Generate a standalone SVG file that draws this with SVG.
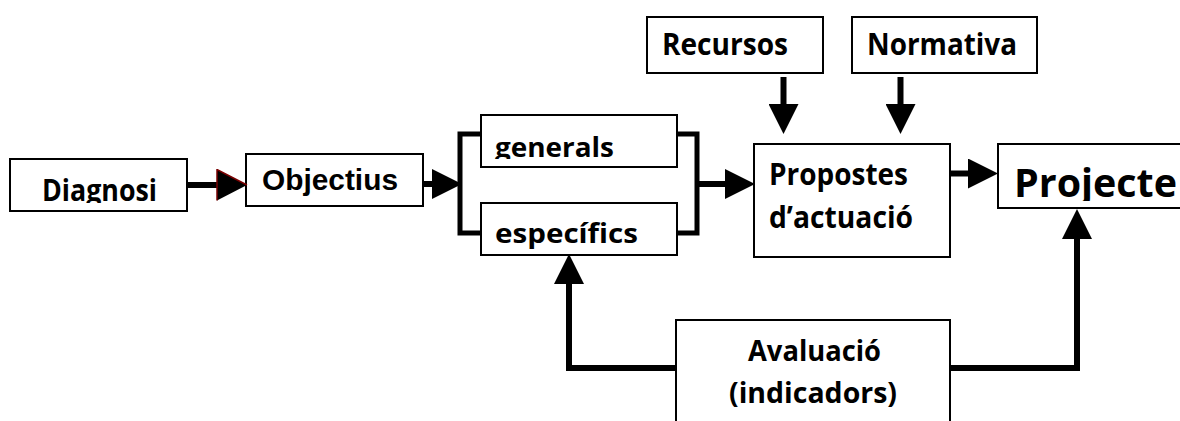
<svg xmlns="http://www.w3.org/2000/svg" width="1180" height="421" viewBox="0 0 1180 421">
<style>
.box{fill:#fff;stroke:#000;stroke-width:2}
.t{font-family:"Open Sans","DejaVu Sans",sans-serif;font-weight:700;fill:#000}
.ta{font-family:"Liberation Sans",Arial,sans-serif;font-weight:700;font-size:30px;fill:#000}
.c{fill:none;stroke:#000;stroke-width:6;stroke-linejoin:miter;stroke-linecap:butt}
.br{fill:none;stroke:#000;stroke-width:5;stroke-linejoin:miter}
</style>
<defs>
<marker id="ah" viewBox="0 0 30 30" markerWidth="30" markerHeight="30" refX="0" refY="15" orient="auto" markerUnits="userSpaceOnUse">
<path d="M0,0 L30,15 L0,30 Z" fill="#000"/>
</marker>
<marker id="ahr" viewBox="-1 -1 32 33" markerWidth="32" markerHeight="33" refX="0" refY="15.5" orient="auto" markerUnits="userSpaceOnUse">
<path d="M0,0 L30,15.5 L0,31 Z" fill="#000"/>
<path d="M0,31 L0,0 L30,15.5" fill="none" stroke="#7a0000" stroke-width="1.5"/>
</marker>
<clipPath id="cDiag"><rect x="0" y="150" width="200" height="53"/></clipPath>
<clipPath id="cGen"><rect x="480" y="110" width="200" height="49"/></clipPath>
<clipPath id="cProj"><rect x="990" y="140" width="190" height="61"/></clipPath>
</defs>

<g id="diagnosi">
<rect class="box" x="10" y="159" width="177" height="52"/>
<text class="t" x="42" y="201" font-size="30" textLength="115" lengthAdjust="spacingAndGlyphs" clip-path="url(#cDiag)">Diagnosi</text>
</g>

<g id="objectius">
<rect class="box" x="246" y="154" width="177" height="52"/>
<text class="ta" x="262" y="190" textLength="136" lengthAdjust="spacingAndGlyphs">Objectius</text>
</g>

<g id="generals">
<rect class="box" x="481" y="115" width="196" height="52"/>
<text class="t" x="495" y="157" font-size="26" textLength="119" lengthAdjust="spacingAndGlyphs" clip-path="url(#cGen)">generals</text>
</g>

<g id="especifics">
<rect class="box" x="481" y="203" width="196" height="52"/>
<text class="t" x="495" y="243" font-size="26" textLength="143" lengthAdjust="spacingAndGlyphs">específics</text>
</g>

<g id="recursos">
<rect class="box" x="647" y="17" width="176" height="56"/>
<text class="t" x="662" y="55" font-size="30" textLength="126" lengthAdjust="spacingAndGlyphs">Recursos</text>
</g>

<g id="normativa">
<rect class="box" x="852" y="17" width="185" height="56"/>
<text class="t" x="867" y="55" font-size="30" textLength="150" lengthAdjust="spacingAndGlyphs">Normativa</text>
</g>

<g id="propostes">
<rect class="box" x="754" y="144" width="196" height="113"/>
<text class="t" x="769" y="185" font-size="30" textLength="139" lengthAdjust="spacingAndGlyphs">Propostes</text>
<text class="t" x="769" y="228" font-size="30" textLength="144" lengthAdjust="spacingAndGlyphs">d’actuació</text>
</g>

<g id="projecte">
<rect class="box" x="998" y="144" width="190" height="64"/>
<text class="t" x="1014" y="197" font-size="40" textLength="163" lengthAdjust="spacingAndGlyphs" clip-path="url(#cProj)">Projecte</text>
</g>

<g id="avaluacio">
<rect class="box" x="676" y="320" width="274" height="110"/>
<text class="t" x="748" y="361" font-size="28" textLength="133" lengthAdjust="spacingAndGlyphs">Avaluació</text>
<text class="t" x="729" y="403" font-size="28" textLength="168" lengthAdjust="spacingAndGlyphs">(indicadors)</text>
</g>

<g id="connectors">
<line class="c" x1="187" y1="185" x2="217" y2="185" marker-end="url(#ahr)"/>
<line class="c" x1="423" y1="184" x2="432" y2="184" marker-end="url(#ah)"/>
<polyline class="br" points="481,134 460,134 460,233 481,233"/>
<polyline class="br" points="677,134 697,134 697,233 677,233"/>
<line class="c" x1="697" y1="184" x2="725" y2="184" marker-end="url(#ah)"/>
<line class="c" x1="783.5" y1="77" x2="783.5" y2="104" marker-end="url(#ah)"/>
<line class="c" x1="900.5" y1="77" x2="900.5" y2="104" marker-end="url(#ah)"/>
<line class="c" x1="950" y1="173.5" x2="968" y2="173.5" marker-end="url(#ah)"/>
<polyline class="c" points="676,368 569,368 569,284" marker-end="url(#ah)"/>
<polyline class="c" points="950,368 1077,368 1077,239" marker-end="url(#ah)"/>
</g>
</svg>
